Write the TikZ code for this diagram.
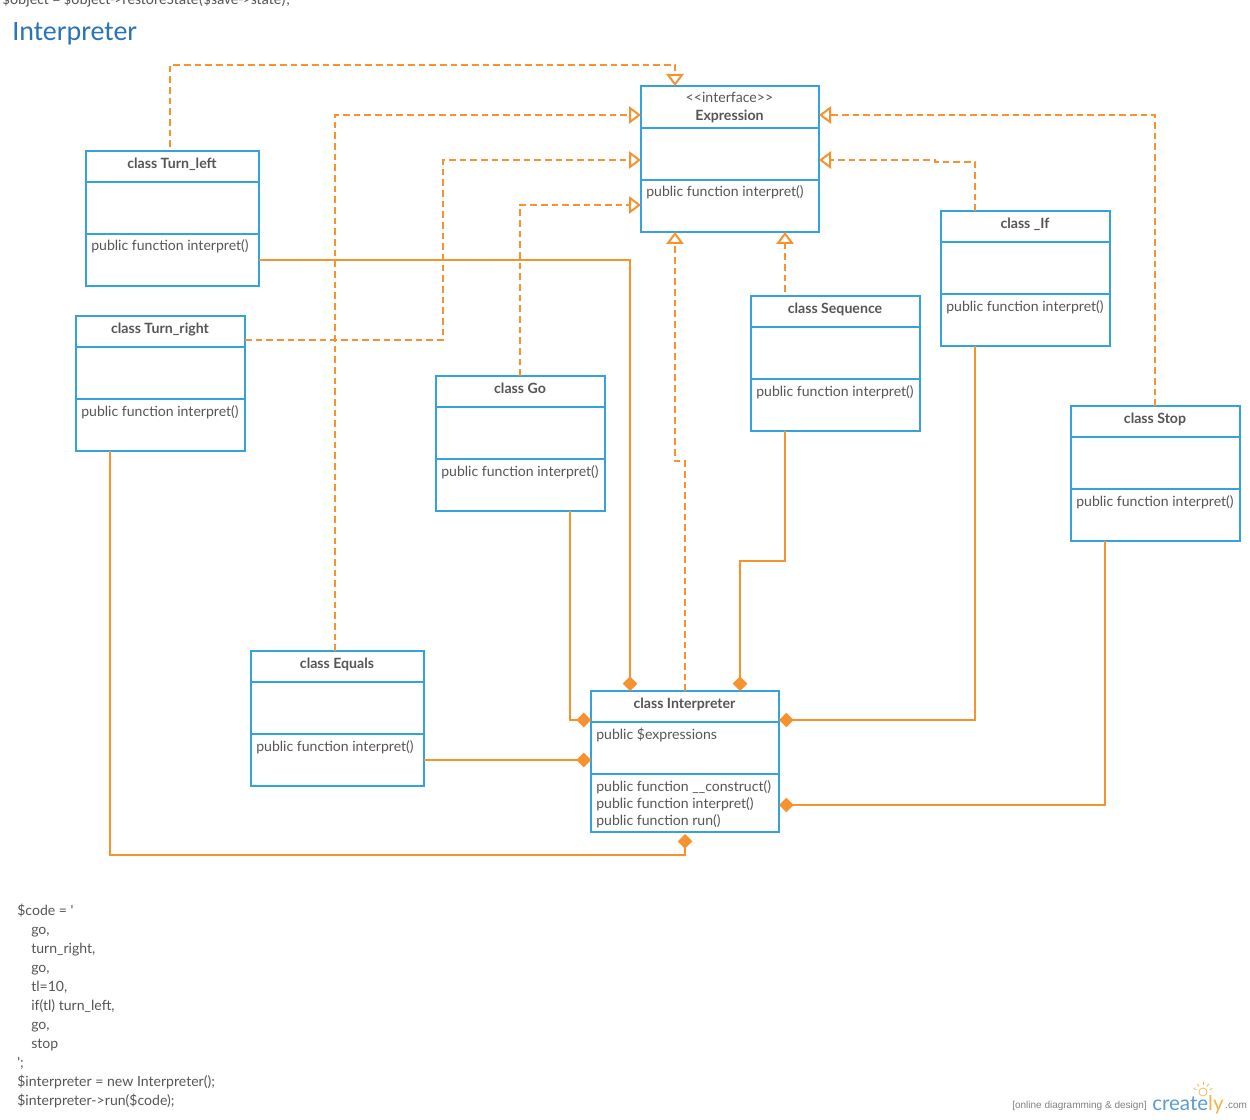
\documentclass[tikz,border=0pt]{standalone}
\usepackage{fontspec}
\setmainfont{Lato}
\newfontfamily\carl{Carlito}
\newfontfamily\lib{Liberation Sans}
\usetikzlibrary{arrows.meta}
\definecolor{boxblue}{HTML}{34A3DC}
\definecolor{linkorange}{HTML}{F7922E}
\definecolor{txt}{HTML}{555555}
\definecolor{titleblue}{HTML}{2A73B8}
\definecolor{crblue}{HTML}{5B9BD5}
\definecolor{crorange}{HTML}{F5B04A}
\tikzset{
  umlbox/.style={draw=boxblue,line width=1.5pt,rectangle,inner sep=0pt,outer sep=0pt,anchor=north west},
  divider/.style={draw=boxblue,line width=1.5pt},
  memtext/.style={anchor=base west,inner sep=0pt,font=\fontsize{10.55pt}{12.75pt}\selectfont,text=txt,align=left},
  headtext/.style={anchor=base,inner sep=0pt,font=\fontsize{10.6pt}{12.75pt}\selectfont\bfseries,text=txt},
  realize/.style={draw=linkorange,line width=1.5pt,dash pattern=on 5pt off 3pt,
    -{Triangle[open,fill=white,length=9pt,width=13pt,line width=1.5pt,sep=0pt]}},
  compose/.style={draw=linkorange,line width=1.5pt,
    -{Diamond[length=11pt,width=11pt,fill=linkorange,line width=0pt]}},
}
\newcommand{\umlclass}[9]{%
  \node[umlbox,minimum width=#4*0.75pt,minimum height=#5*0.75pt] (#1) at (#2,#3) {};
  \draw[divider] (#1.west |- 0,#6) -- (#1.east |- 0,#6);
  \draw[divider] (#1.west |- 0,#7) -- (#1.east |- 0,#7);
  \node[headtext] (#1-head) at ({#2+#4/2-0.5},{#3+17.5}) {#8};
  \node[memtext] (#1-mem) at ({#2+5},{#7+17}) {#9};
}
\begin{document}
\begin{tikzpicture}[x=0.75pt,y=-0.75pt]
\useasboundingbox (0,0) rectangle (1250,1120);
\clip (0,0) rectangle (1250,1120);
\node[anchor=base west,inner sep=0pt,font=\carl\fontsize{11.5pt}{13pt}\selectfont,text=txt] (topline) at (2,5) {\$object = \$object->restoreState(\$save->state);};
\node[anchor=base west,inner sep=0pt,font=\carl\fontsize{21pt}{24pt}\selectfont,text=titleblue] (title) at (12,41) {Interpreter};

\umlclass{expr}{641}{86}{178}{146}{128}{180}{}{public function interpret()}
\node[anchor=base,inner sep=0pt,font=\fontsize{10.6pt}{12pt}\selectfont,text=txt] (expr-stereo) at (729.5,103) {{<}{<}interface{>}{>}};
\node[headtext] (expr-name) at (729.5,120.5) {Expression};
\umlclass{tl}{86}{151}{173}{135}{182}{234}{class Turn\_left}{public function interpret()}
\umlclass{tr}{76}{316}{169}{135}{347}{399}{class Turn\_right}{public function interpret()}
\umlclass{go}{436}{376}{169}{135}{407}{459}{class Go}{public function interpret()}
\umlclass{seq}{751}{296}{169}{135}{327}{379}{class Sequence}{public function interpret()}
\umlclass{if}{941}{211}{169}{135}{242}{294}{class \_If}{public function interpret()}
\umlclass{stop}{1071}{406}{169}{135}{437}{489}{class Stop}{public function interpret()}
\umlclass{eq}{251}{651}{173}{135}{682}{734}{class Equals}{public function interpret()}
\umlclass{in}{591}{691}{188}{141}{722}{774}{class Interpreter}{}
\node[memtext] (in-attr) at (596,739) {public \$expressions};
\node[memtext,anchor=north west] (in-ops) at (596,780) {public function \_\_construct()\\public function interpret()\\public function run()};

% realizations
\draw[realize,shorten <=3pt] (tl.north -| 170,0) -- (170,65) -- (675,65) -- (expr.north -| 675,0);
\draw[realize] (tr.east |- 0,340) -- (443,340) -- (443,160) -- (expr.west |- 0,160);
\draw[realize] (go.north -| 520,0) -- (520,205) -- (expr.west |- 0,205);
\draw[realize] (eq.north -| 335,0) -- (335,115) -- (expr.west |- 0,115);
\draw[realize] (in.north -| 685,0) -- (685,461) -- (675,461) -- (expr.south -| 675,0);
\draw[realize,shorten <=3pt] (seq.north -| 785,0) -- (expr.south -| 785,0);
\draw[realize] (if.north -| 975,0) -- (975,162) -- (935,162) -- (935,160) -- (expr.east |- 0,160);
\draw[realize] (stop.north -| 1155,0) -- (1155,115) -- (expr.east |- 0,115);

% compositions
\draw[compose] (tl.east |- 0,260) -- (630,260) -- (in.north -| 630,0);
\draw[compose] (go.south -| 570,0) -- (570,720) -- (in.west |- 0,720);
\draw[compose] (seq.south -| 785,0) -- (785,561) -- (740,561) -- (in.north -| 740,0);
\draw[compose] (if.south -| 975,0) -- (975,720) -- (in.east |- 0,720);
\draw[compose] (stop.south -| 1105,0) -- (1105,805) -- (in.east |- 0,805);
\draw[compose] (eq.east |- 0,760) -- (in.west |- 0,760);
\draw[compose,shorten >=1.5pt] (tr.south -| 110,0) -- (110,855) -- (685,855) -- (in.south -| 685,0);

\node[anchor=north west,inner sep=0pt,font=\fontsize{10.55pt}{14.25pt}\selectfont,text=txt,align=left] (code) at (17,904) {%
\$code = \textquotesingle\\
\hspace*{10.5pt}go,\\
\hspace*{10.5pt}turn\_right,\\
\hspace*{10.5pt}go,\\
\hspace*{10.5pt}tl=10,\\
\hspace*{10.5pt}if(tl) turn\_left,\\
\hspace*{10.5pt}go,\\
\hspace*{10.5pt}stop\\
\textquotesingle;\\
\$interpreter = new Interpreter();\\
\$interpreter->run(\$code);};

% watermark
\node[anchor=base west,inner sep=0pt,font=\lib\fontsize{7.5pt}{8pt}\selectfont,text=gray] (wm1) at (1012,1108) {[online diagramming \& design]};
\node[anchor=base west,inner sep=0pt,font=\fontsize{15.4pt}{18pt}\selectfont,text=crblue] (wm2) at (1152,1110) {create\textcolor{crorange}{ly}};
\node[anchor=base west,inner sep=0pt,font=\lib\fontsize{7.5pt}{8pt}\selectfont,text=gray] (wm3) at (1225,1108) {.com};
\draw[crorange,line width=0.5pt] (1203,1092) circle (4);
\foreach \a in {20,55,90,125,160} \draw[crorange,line width=0.6pt] (1203,1092) ++(\a:-7) -- ++(\a:-3);
\end{tikzpicture}
\end{document}
